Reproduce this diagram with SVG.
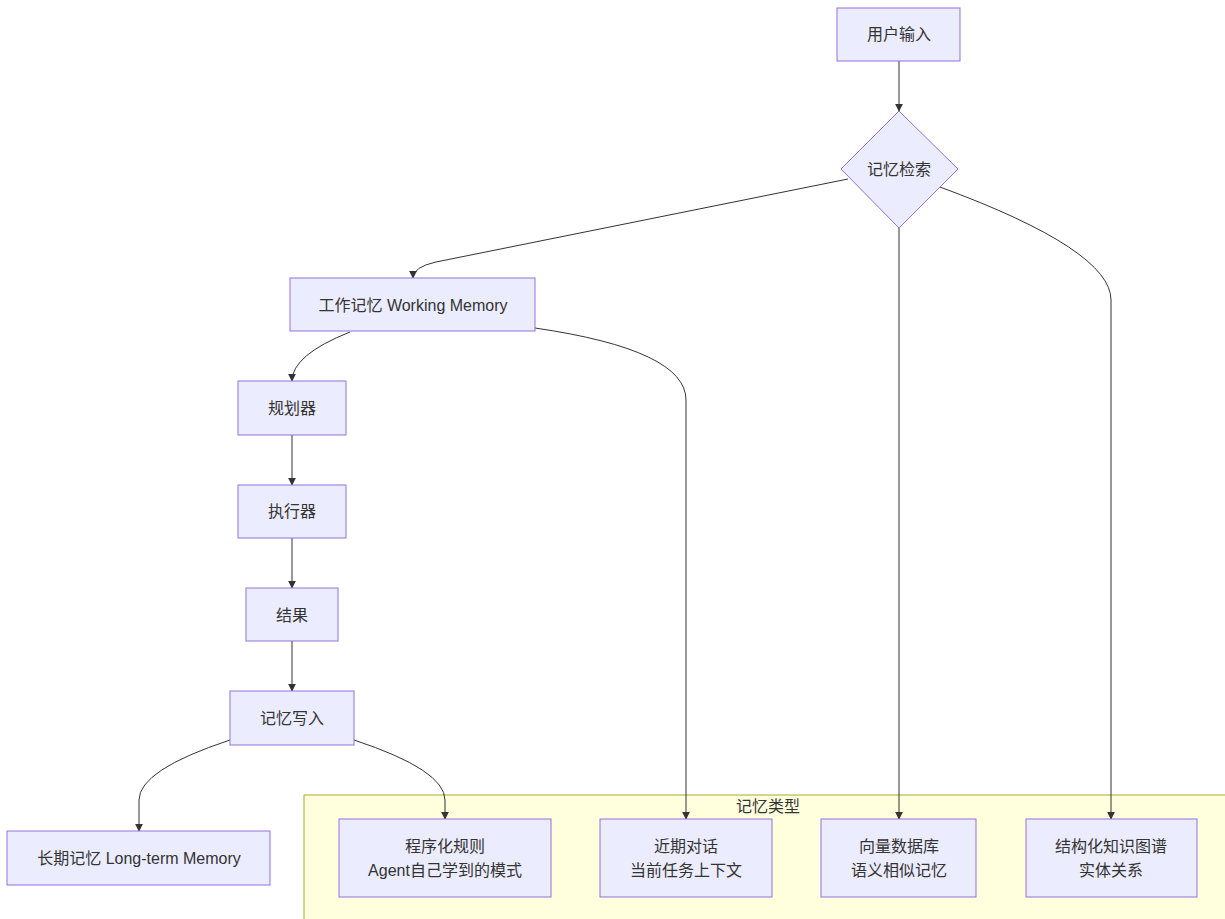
<svg xmlns="http://www.w3.org/2000/svg" width="1225" height="919" viewBox="0 0 1225 919">
<style>
.n{fill:#ECECFF;stroke:#9370DB;stroke-width:1}
.t{font-family:"Liberation Sans","Noto Sans CJK SC",sans-serif;font-size:16px;fill:#333;text-anchor:middle;dominant-baseline:central}
.e{fill:none;stroke:#333;stroke-width:1}
.c{fill:#ffffde;stroke:#aaaa33;stroke-width:1}
</style>
<defs>
<marker id="ah" viewBox="0 0 10 10" refX="9" refY="5" markerWidth="8" markerHeight="8" markerUnits="userSpaceOnUse" orient="auto">
<path d="M0,0 L10,5 L0,10 z" fill="#333"/>
</marker>
</defs>
<g id="cluster">
<rect class="c" x="304" y="795" width="930" height="130"/>
<text class="t" x="768" y="806">记忆类型</text>
</g>
<g id="edges">
<path class="e" marker-end="url(#ah)" d="M899,61 L899,111"/>
<path class="e" marker-end="url(#ah)" d="M848,179 L436,262 Q413,267 413,278"/>
<path class="e" marker-end="url(#ah)" d="M899,228 L899,819"/>
<path class="e" marker-end="url(#ah)" d="M940,187 Q1111,250 1111,300 L1111,819"/>
<path class="e" marker-end="url(#ah)" d="M535,328 Q686,350 686,400 L686,819"/>
<path class="e" marker-end="url(#ah)" d="M350,332 Q292,355 292,381"/>
<path class="e" marker-end="url(#ah)" d="M292,435 L292,485"/>
<path class="e" marker-end="url(#ah)" d="M292,538 L292,588"/>
<path class="e" marker-end="url(#ah)" d="M292,641 L292,691"/>
<path class="e" marker-end="url(#ah)" d="M230,740 Q139,770 139,800 L139,831"/>
<path class="e" marker-end="url(#ah)" d="M354,740 Q445,770 445,800 L445,819"/>
</g>
<g id="n-input"><rect class="n" x="837" y="8" width="123" height="53"/><text class="t" x="899" y="34">用户输入</text></g>
<g id="n-retrieve"><polygon class="n" points="899,111 958,169 899,228 841,169"/><text class="t" x="899" y="169">记忆检索</text></g>
<g id="n-working"><rect class="n" x="290" y="278" width="245" height="53"/><text class="t" x="413" y="305">工作记忆 Working Memory</text></g>
<g id="n-planner"><rect class="n" x="238" y="381" width="108" height="54"/><text class="t" x="292" y="408">规划器</text></g>
<g id="n-executor"><rect class="n" x="238" y="485" width="108" height="53"/><text class="t" x="292" y="511">执行器</text></g>
<g id="n-result"><rect class="n" x="246" y="588" width="92" height="53"/><text class="t" x="292" y="615">结果</text></g>
<g id="n-write"><rect class="n" x="230" y="691" width="124" height="54"/><text class="t" x="292" y="718">记忆写入</text></g>
<g id="n-longterm"><rect class="n" x="7" y="831" width="263" height="54"/><text class="t" x="139" y="858">长期记忆 Long-term Memory</text></g>
<g id="n-procedural"><rect class="n" x="339" y="819" width="212" height="78"/><text class="t" x="445" y="846">程序化规则</text><text class="t" x="445" y="870">Agent自己学到的模式</text></g>
<g id="n-recent"><rect class="n" x="600" y="819" width="172" height="78"/><text class="t" x="686" y="846">近期对话</text><text class="t" x="686" y="870">当前任务上下文</text></g>
<g id="n-vector"><rect class="n" x="821" y="819" width="155" height="78"/><text class="t" x="899" y="846">向量数据库</text><text class="t" x="899" y="870">语义相似记忆</text></g>
<g id="n-graph"><rect class="n" x="1026" y="819" width="171" height="78"/><text class="t" x="1111" y="846">结构化知识图谱</text><text class="t" x="1111" y="870">实体关系</text></g>
</svg>
